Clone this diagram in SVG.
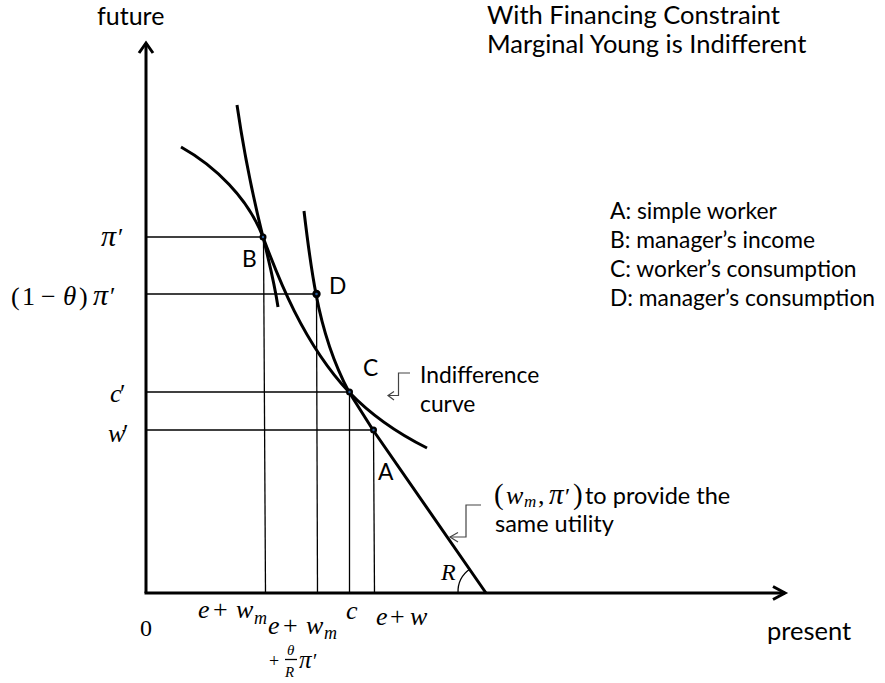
<svg xmlns="http://www.w3.org/2000/svg" width="885" height="683" viewBox="0 0 885 683">
<style>
.sans{font-family:Lato,"Liberation Sans",sans-serif;font-size:22.8px;fill:#000}
.big{font-size:25.5px}
.m{font-family:"Liberation Serif","DejaVu Serif",serif;font-size:26px;fill:#000}
.g{font-family:"Liberation Serif","DejaVu Serif",serif;font-style:italic}
.p{font-family:"Liberation Serif","DejaVu Serif",serif;font-style:normal}
.i{font-style:italic}
.axis{stroke:#000;stroke-width:3;fill:none}
.curve{stroke:#000;stroke-width:3;fill:none;stroke-linecap:butt}
.grid{stroke:#000;stroke-width:1.3;fill:none}
.call{stroke:#444;stroke-width:1.2;fill:none}
.dot{fill:#000}
.dotc{fill:#2a5c9a}
</style>
<rect width="885" height="683" fill="#fff"/>

<g id="axes">
  <line class="axis" x1="146" y1="593" x2="146" y2="43"/>
  <polyline class="axis" points="139,53 146,43 153,53"/>
  <line class="axis" x1="144.5" y1="593" x2="785" y2="593"/>
  <polyline class="axis" points="773,586.5 785,593 773,599.5"/>
</g>

<g id="guides">
  <line class="grid" x1="146" y1="237" x2="263" y2="237"/>
  <line class="grid" x1="146" y1="294" x2="316" y2="294"/>
  <line class="grid" x1="146" y1="392" x2="349" y2="392"/>
  <line class="grid" x1="146" y1="430" x2="373" y2="430"/>
  <line class="grid" x1="263.5" y1="237" x2="265.5" y2="593"/>
  <line class="grid" x1="316.5" y1="294" x2="317.5" y2="593"/>
  <line class="grid" x1="349.5" y1="392" x2="349.5" y2="593"/>
  <line class="grid" x1="373.5" y1="430" x2="374.5" y2="593"/>
</g>

<g id="curves">
  <path id="indifference-curve" class="curve" d="M181,147 C215,166 248,198 263,237 C274,266 300,340 349,392 C370,414 395,432 427,448"/>
  <path id="manager-curve" class="curve" d="M237,105 C245,160 255,205 263,237 C270,265 275,287 278,307"/>
  <path id="same-utility-curve" class="curve" d="M304,211 C308,245 311,268 316,294 C322,326 333,362 349,392 L373,430 L486,593"/>
  <path id="angle-R" class="grid" d="M458,593 A28,28 0 0 1 470,569"/>
</g>

<g id="points">
  <g id="B"><circle class="dot" cx="263" cy="237" r="3.5"/><circle class="dotc" cx="263" cy="237" r="1.2"/></g>
  <g id="D"><circle class="dot" cx="316.5" cy="294" r="4.2"/><circle class="dotc" cx="316.5" cy="294" r="1.3"/></g>
  <g id="C"><circle class="dot" cx="349.5" cy="392" r="3.5"/><circle class="dotc" cx="349.5" cy="392" r="1.2"/></g>
  <g id="A"><circle class="dot" cx="373.5" cy="430" r="3.5"/><circle class="dotc" cx="373.5" cy="430" r="1.2"/></g>
</g>

<g id="connectors">
  <polyline class="call" points="410,373 398.5,373 398.5,395.5 388,395.5"/>
  <polyline class="call" points="394,391.5 388,395.5 394,400"/>
  <polyline class="call" points="481,505 466,505 466,537 450,537"/>
  <polyline class="call" points="458,532.5 450,537 458,542"/>
</g>

<g id="point-labels">
  <text class="sans" x="242" y="267">B</text>
  <text class="sans" x="329" y="294">D</text>
  <text class="sans" x="363" y="376">C</text>
  <text class="sans" x="378" y="480">A</text>
</g>

<g id="axis-titles">
  <text class="sans" x="97" y="25" style="font-size:25px">future</text>
  <text class="sans" x="767" y="640" style="font-size:25.5px">present</text>
</g>

<g id="title">
  <text class="sans big" x="487" y="24">With Financing Constraint</text>
  <text class="sans big" x="487" y="53">Marginal Young is Indifferent</text>
</g>

<g id="legend">
  <text class="sans" x="610" y="219">A: simple worker</text>
  <text class="sans" x="610" y="248">B: manager’s income</text>
  <text class="sans" x="610" y="277">C: worker’s consumption</text>
  <text class="sans" x="610" y="306">D: manager’s consumption</text>
</g>

<g id="callout-labels">
  <text class="sans" x="420" y="383">Indifference</text>
  <text class="sans" x="420" y="412">curve</text>
  <text class="m" y="504"><tspan x="494" font-size="29">(</tspan><tspan x="506" class="i">w</tspan><tspan x="524" y="507" class="i" font-size="17">m</tspan><tspan x="538" y="504">,</tspan><tspan x="549" class="g" font-size="29">π</tspan><tspan x="565" class="p" font-size="24">′</tspan><tspan x="573" font-size="29">)</tspan></text>
  <text class="sans" x="585" y="504" style="font-size:23.5px">to provide the</text>
  <text class="sans" x="495" y="532" style="font-size:23.5px">same utility</text>
</g>

<g id="y-labels">
  <text class="m" y="246"><tspan x="101" class="g" font-size="30">π</tspan><tspan x="118" class="p" font-size="25">′</tspan></text>
  <text class="m" y="305"><tspan x="11">(</tspan><tspan x="22">1</tspan><tspan x="41">−</tspan><tspan x="63" class="g" font-size="27">θ</tspan><tspan x="79">)</tspan><tspan x="93" class="g" font-size="30">π</tspan><tspan x="110" class="p" font-size="25">′</tspan></text>
  <text class="m" y="402"><tspan x="110" class="i">c</tspan><tspan x="120" class="p" font-size="25">′</tspan></text>
  <text class="m" y="442"><tspan x="108" class="i">w</tspan><tspan x="123" class="p" font-size="25">′</tspan></text>
</g>

<g id="x-labels">
  <text class="m" x="140" y="636" style="font-size:24px">0</text>
  <text class="m" y="618"><tspan x="198" class="i">e</tspan><tspan x="213">+</tspan><tspan x="236" class="i">w</tspan><tspan x="254" y="624" class="i" font-size="18">m</tspan></text>
  <text class="m" y="634"><tspan x="268" class="i">e</tspan><tspan x="283">+</tspan><tspan x="306" class="i">w</tspan><tspan x="324" y="639" class="i" font-size="18">m</tspan></text>
  <text class="m" x="269" y="667" style="font-size:18px">+</text>
  <text class="g" x="287" y="655" font-size="15">θ</text>
  <line class="grid" x1="285" y1="659.5" x2="297" y2="659.5"/>
  <text class="m i" x="285" y="677" style="font-size:15px">R</text>
  <text class="m" y="668"><tspan x="299" class="g" font-size="25">π</tspan><tspan x="313" class="p" font-size="20">′</tspan></text>
  <text class="m i" x="346" y="619">c</text>
  <text class="m" y="625"><tspan x="376" class="i">e</tspan><tspan x="390">+</tspan><tspan x="410" class="i">w</tspan></text>
  <text class="m i" x="441" y="580" style="font-size:24px">R</text>
</g>
</svg>
